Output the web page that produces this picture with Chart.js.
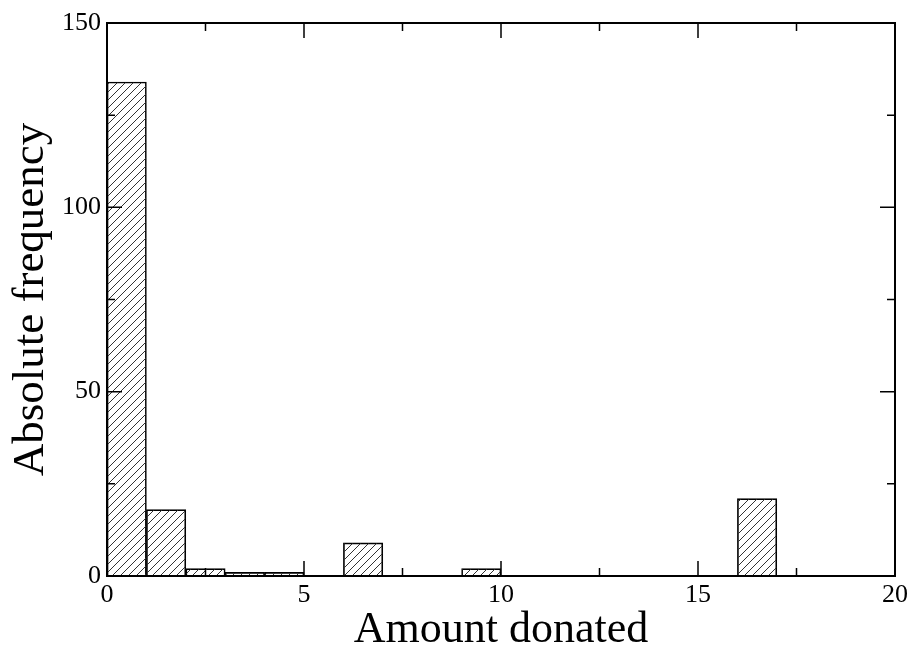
<!DOCTYPE html>
<html>
<head>
<meta charset="utf-8">
<script src="https://cdn.jsdelivr.net/npm/chart.js@4.4.0/dist/chart.umd.min.js"></script>
<style>
  html, body { margin: 0; padding: 0; background: #fff; }
  #wrap { width: 916px; height: 646px; }
</style>
</head>
<body>
<div id="wrap"><canvas id="hist"></canvas></div>
<script>
// histogram bins (start of each bin, width 1) and counts
const binStarts = [0, 1, 2, 3, 4, 5, 6, 7, 8, 9, 10, 11, 12, 13, 14, 15, 16, 17, 18, 19]
const counts = [134, 18, 2, 1, 1, 0, 9, 0, 0, 2, 0, 0, 0, 0, 0, 0, 21, 0, 0, 0]
const xMajor = [0, 5, 10, 15, 20]
const xMinor = [2.5, 7.5, 12.5, 17.5]
const yMajor = [0, 50, 100, 150]
const yMinor = [25, 75, 125]

const makeHatch = () => {
    let c = document.createElement('canvas')
    c.width = 8
    c.height = 8
    let g = c.getContext('2d')
    g.strokeStyle = '#333'
    g.lineWidth = 1
    g.beginPath()
    g.moveTo(-1, 9); g.lineTo(9, -1)
    g.moveTo(-1, 1); g.lineTo(1, -1)
    g.moveTo(7, 9); g.lineTo(9, 7)
    g.stroke()
    return g.createPattern(c, 'repeat')
}

// frame and inward ticks, Grace style
const frameTicks = {
    id: 'frameTicks',
    afterDatasetsDraw(chart) {
        const { ctx, chartArea: a, scales } = chart
        ctx.save()
        ctx.strokeStyle = '#000'
        ctx.lineWidth = 2
        ctx.strokeRect(a.left, a.top, a.right - a.left, a.bottom - a.top)
        ctx.lineWidth = 1.5
        ctx.beginPath()
        const xt = (v, len) => {
            let px = scales.x.getPixelForValue(v)
            ctx.moveTo(px, a.bottom); ctx.lineTo(px, a.bottom - len)
            ctx.moveTo(px, a.top); ctx.lineTo(px, a.top + len)
        }
        const yt = (v, len) => {
            let py = scales.y.getPixelForValue(v)
            ctx.moveTo(a.left, py); ctx.lineTo(a.left + len, py)
            ctx.moveTo(a.right, py); ctx.lineTo(a.right - len, py)
        }
        xMajor.forEach(v => xt(v, 15))
        xMinor.forEach(v => xt(v, 8))
        yMajor.forEach(v => yt(v, 15))
        yMinor.forEach(v => yt(v, 8))
        ctx.stroke()
        ctx.restore()
    }
}

const font = 'Liberation Serif, Times New Roman, serif'

new Chart(document.getElementById('hist'), {
    type: 'bar',
    data: {
        datasets: [
            {
                data: binStarts.map((s, i) => ({ x: s + 0.5, y: counts[i] })),
                backgroundColor: makeHatch(),
                borderColor: '#000',
                borderWidth: (c) => (c.raw && c.raw.y > 0 ? 1 : 0),
                barPercentage: 1,
                categoryPercentage: 1,
            }
        ],
    },
    options: {
        responsive: true,
        maintainAspectRatio: false,
        animation: false,
        layout: { padding: { top: 23, right: 21, left: 0, bottom: 0 } },
        plugins: { legend: { display: false }, tooltip: { enabled: false } },
        scales: {
            x: {
                type: 'linear',
                offset: false,
                min: 0,
                max: 20,
                afterBuildTicks: (s) => { s.ticks = xMajor.map(v => ({ value: v })) },
                afterFit: (s) => { s.height = 70 },
                grid: { display: false, drawTicks: false },
                border: { display: false },
                ticks: { color: '#000', font: { family: font, size: 26 }, padding: 4, maxRotation: 0, autoSkip: false },
                title: { display: true, text: 'Amount donated', color: '#000', font: { family: font, size: 44 }, padding: { top: 0, bottom: -11 } }
            },
            y: {
                min: 0,
                max: 150,
                afterBuildTicks: (s) => { s.ticks = yMajor.map(v => ({ value: v })) },
                afterFit: (s) => { s.width = 107 },
                grid: { display: false, drawTicks: false },
                border: { display: false },
                ticks: { color: '#000', font: { family: font, size: 26 }, padding: 6 },
                title: { display: true, text: 'Absolute frequency', color: '#000', font: { family: font, size: 45 }, padding: { top: 4, bottom: 0 } }
            }
        }
    },
    plugins: [frameTicks]
})
</script>
</body>
</html>
